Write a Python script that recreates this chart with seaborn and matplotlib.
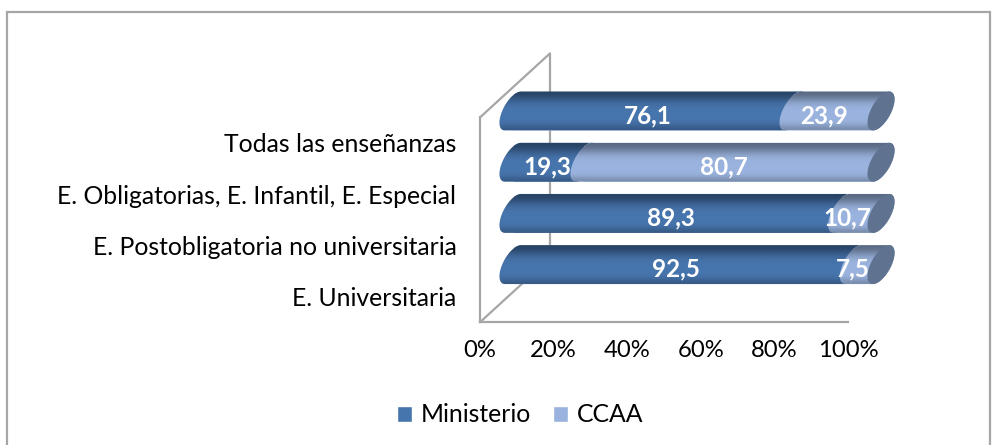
import numpy as np
import pandas as pd
import matplotlib
matplotlib.use('Agg')
import matplotlib.pyplot as plt
from matplotlib.patches import PathPatch, Rectangle
from matplotlib.path import Path
import seaborn as sns

categorias = ['Todas las enseñanzas', 'E. Obligatorias, E. Infantil, E. Especial',
              'E. Postobligatoria no universitaria', 'E. Universitaria']
ministerio = [76.1, 19.3, 89.3, 92.5]
ccaa = [23.9, 80.7, 10.7, 7.5]
etiquetas_min = ['76,1', '19,3', '89,3', '92,5']
etiquetas_ccaa = ['23,9', '80,7', '10,7', '7,5']
xticks = [0, 20, 40, 60, 80, 100]

AZUL = '#4674ac'
CLARO = '#9ab3de'
TAPA = '#5f7391'
GRIS = '#a6a6a6'
W, H = 997, 445

sns.set_theme(style='white')
plt.rcParams['font.family'] = ['Lato', 'DejaVu Sans']


def rect_px(x0, y0, x1, y1):
    return [x0 / W, 1 - y1 / H, (x1 - x0) / W, (y1 - y0) / H]


def elipse(cx, cy, t):
    # seccion inclinada del cilindro, en unidades de datos
    rx, s, ry = 2.95, 2.2, 0.38
    return np.column_stack([cx + rx * np.cos(t) + s * np.sin(t), cy - ry * np.sin(t)])


def cuerpo(a, b, cy):
    izq = elipse(a, cy, np.linspace(np.pi / 2, 3 * np.pi / 2, 40))
    der = elipse(b, cy, np.linspace(-np.pi / 2, np.pi / 2, 40))
    return Path(np.vstack([izq, der, izq[:1]]), closed=True)


fig = plt.figure(figsize=(W / 100, H / 100), dpi=100)
fig.add_artist(Rectangle((7 / W, -0.05), 983 / W, 1.05 - 12 / H, transform=fig.transFigure,
                         fill=False, edgecolor=GRIS, linewidth=1.6))

# paredes y ejes
ax = fig.add_axes(rect_px(480, 117.4, 848, 322.2))
ax.set_xlim(0, 100)
ax.set_ylim(3.5, -0.5)
ax.set_xticks(xticks, [f'{v}%' for v in xticks])
ax.set_yticks(range(len(categorias)), categorias)
ax.tick_params(axis='x', length=0, pad=13, labelsize=17.2, colors='black')
ax.tick_params(axis='y', length=0, pad=17, labelsize=17.8, colors='black')
for lado in ['top', 'right']:
    ax.spines[lado].set_visible(False)
for lado in ['left', 'bottom']:
    ax.spines[lado].set_color(GRIS)
    ax.spines[lado].set_linewidth(1.6)
dx, dy = 70 / 368, 64 / 204.8
pared = dict(transform=ax.transAxes, clip_on=False, color=GRIS, linewidth=1.6)
ax.plot([0, dx, dx], [1, 1 + dy, dy], **pared)
ax.plot([0, dx], [0, dy], **pared)

# barras, desplazadas por la profundidad; margen de 10 unidades para las tapas
ax2 = fig.add_axes(rect_px(513 - 36.8, 85.4, 881 + 36.8, 290.2))
ax2.patch.set_alpha(0)
df = pd.DataFrame({'categoria': categorias, 'Ministerio': ministerio, 'CCAA': ccaa})
sns.barplot(data=df, y='categoria', x='Ministerio', color=AZUL, saturation=1, width=0.76,
            label='Ministerio', ax=ax2)
sns.barplot(data=df, y='categoria', x='CCAA', color=CLARO, saturation=1, width=0.76,
            label='CCAA', left=df['Ministerio'], ax=ax2)
h, l = ax2.get_legend_handles_labels()
if ax2.get_legend() is not None:
    ax2.get_legend().remove()
ax2.axis('off')

grad = np.array([0.42, 0.3, 0.12, 0.02, 0, 0, 0, 0.03, 0.22]).reshape(-1, 1)
sombra = np.dstack([np.zeros_like(grad)] * 3 + [grad])
for n, barra in enumerate(list(ax2.patches)):
    a, ancho = barra.get_x(), barra.get_width()
    y0, alto = barra.get_y(), barra.get_height()
    cy = y0 + alto / 2
    z = 2 + (n >= len(categorias))
    borde = PathPatch(cuerpo(a, a + ancho, cy), facecolor=barra.get_facecolor(),
                      edgecolor='none', zorder=z)
    ax2.add_patch(borde)
    barra.set_clip_path(borde)
    barra.set_zorder(z)
    im = ax2.imshow(sombra, extent=(a - 5, a + ancho + 5, y0 + alto, y0), aspect='auto',
                    interpolation='bicubic', zorder=z + 0.1)
    im.set_clip_path(borde)
    if n >= len(categorias):
        tapa = elipse(a + ancho, cy, np.linspace(0, 2 * np.pi, 80))
        ax2.add_patch(PathPatch(Path(tapa, closed=True), facecolor=TAPA, edgecolor='none', zorder=4))
ax2.set_xlim(-10, 110)
ax2.set_ylim(3.5, -0.5)

for i in range(len(categorias)):
    texto = dict(ha='center', va='center', color='white', fontsize=17.5, fontweight='bold', zorder=5)
    ax2.text(0.96 * ministerio[i] / 2, i + 0.09, etiquetas_min[i], **texto)
    ax2.text(0.96 * (ministerio[i] + ccaa[i] / 2), i + 0.09, etiquetas_ccaa[i], **texto)

fig.legend(h, l, loc='center', bbox_to_anchor=(520 / W, 1 - 415 / H), ncol=2, frameon=False,
           fontsize=17.8, handlelength=0.6, handleheight=0.6, handletextpad=0.35,
           columnspacing=0.9, labelcolor='black')

fig.savefig('out.png', dpi=100)
